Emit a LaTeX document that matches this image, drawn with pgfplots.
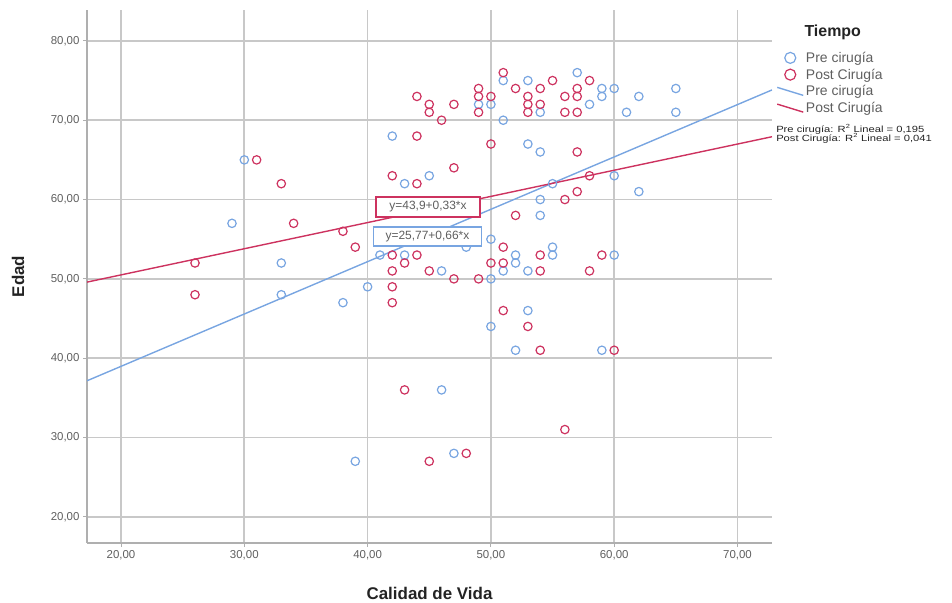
\documentclass[border=0pt]{standalone}
\usepackage{fontspec}
\setmainfont{Liberation Sans}
\usepackage{pgfplots}
\pgfplotsset{compat=1.18}
\definecolor{preC}{RGB}{120,165,225}
\definecolor{postC}{RGB}{205,50,95}
\definecolor{gridC}{RGB}{200,200,200}
\definecolor{axisC}{RGB}{175,175,175}
\definecolor{tickC}{RGB}{95,95,95}
\definecolor{labelC}{RGB}{35,35,35}
\pgfplotsset{
  slantline legend/.style={legend image code/.code={\draw[##1] (-4bp,4bp) -- (22bp,-4bp);}},
  scatter legend/.style={legend image code/.code={\draw[mark repeat=2,mark phase=2,##1,mark size=5.5bp] plot coordinates {(0bp,0bp) (9bp,0bp) (18bp,0bp)};}}
}
\begin{document}
\begin{tikzpicture}[x=1bp,y=1bp]
\useasboundingbox (0,0) rectangle (952,603);
\begin{axis}[
  at={(87bp,60bp)}, anchor=south west,
  scale only axis, width=685bp, height=533bp,
  xmin=17.24, xmax=72.8, ymin=16.7, ymax=83.9,
  axis x line*=bottom, axis y line*=left,
  axis line style={draw=axisC, line width=1.8bp, -},
  xtick={20,30,40,50,60,70},
  xticklabels={{20,00},{30,00},{40,00},{50,00},{60,00},{70,00}},
  ytick={20,30,40,50,60,70,80},
  yticklabels={{20,00},{30,00},{40,00},{50,00},{60,00},{70,00},{80,00}},
  tick align=outside, major tick length=4bp,
  tick style={draw=axisC, line width=1bp},
  grid=major, grid style={draw=gridC, line width=1.7bp},
  ticklabel style={font=\fontsize{11.5}{13}\selectfont, text=tickC},
  xlabel={Calidad de Vida}, ylabel={Edad},
  xlabel style={at={(axis description cs:0.5,-0.0938)}, anchor=center, font=\bfseries\fontsize{17}{20}\selectfont, text=labelC},
  ylabel style={at={(axis description cs:-0.1007,0.5)}, anchor=center, font=\bfseries\fontsize{17}{20}\selectfont, text=labelC},
  legend style={at={(axis description cs:1.002,0.929)}, anchor=north west, draw=none, fill=none,
    font=\fontsize{14}{15}\selectfont, text=tickC, row sep=1bp,
    /tikz/every even column/.append style={column sep=2bp}},
  legend cell align=left,
]
% Pre cirugia
\addplot[only marks, mark=o, mark size=4.2bp, mark options={line width=1.2bp}, color=preC, scatter legend] coordinates {
(30,65) (29,57) (33,52) (33,48) (38,47) (40,49) (39,27) (41,53) (42,68) (43,62)
(45,63) (46,51) (46,36) (47,28) (48,54) (49,72) (50,72) (50,50) (50,44) (50,55)
(51,75) (51,70) (51,51) (52,53) (52,52) (52,41) (53,75) (53,67) (53,51) (53,46)
(54,71) (54,66) (54,60) (54,58) (55,62) (55,54) (55,53) (57,76) (58,72) (59,74)
(59,73) (60,74) (61,71) (62,73) (65,74) (65,71) (60,63) (62,61) (60,53) (59,41)
(43,53)
};
\addlegendentry{Pre cirugía}
% Post cirugia
\addplot[only marks, mark=o, mark size=4.2bp, mark options={line width=1.2bp}, color=postC, scatter legend] coordinates {
(26,52) (26,48) (31,65) (33,62) (34,57) (38,56) (39,54) (42,63) (42,53) (42,51)
(42,49) (42,47) (43,52) (43,36) (44,73) (44,68) (44,62) (44,53) (45,72) (45,71)
(45,51) (45,27) (46,70) (47,72) (47,64) (47,50) (48,28) (49,74) (49,73) (49,71)
(49,50) (50,73) (50,67) (50,52) (51,76) (51,54) (51,52) (51,46) (52,74) (52,58)
(53,73) (53,72) (53,71) (53,44) (54,74) (54,72) (54,53) (54,51) (54,41) (55,75)
(56,73) (56,71) (56,60) (56,31) (57,74) (57,73) (57,71) (57,66) (57,61) (58,75)
(58,63) (58,51) (59,53) (60,41)
};
\addlegendentry{Post Cirugía}
% regression lines
\addplot[preC, line width=1.4bp, slantline legend] coordinates {(17.24,37.15) (72.8,73.82)};
\addlegendentry{Pre cirugía}
\addplot[postC, line width=1.4bp, slantline legend] coordinates {(17.24,49.59) (72.8,67.92)};
\addlegendentry{Post Cirugía}
\end{axis}
% legend title and fit notes
\node[anchor=west, font=\bfseries\fontsize{16}{18}\selectfont, text=labelC] at (801,571) {Tiempo};
\node[anchor=west, font=\fontsize{9}{10}\selectfont, text=labelC, xscale=1.25, transform shape, inner sep=0pt] at (776,474) {Pre cirugía: R\textsuperscript{2} Lineal = 0,195};
\node[anchor=west, font=\fontsize{9}{10}\selectfont, text=labelC, xscale=1.25, transform shape, inner sep=0pt] at (776,464.5) {Post Cirugía: R\textsuperscript{2} Lineal = 0,041};
% equation labels
\node[draw=postC, line width=1.2bp, fill=white, minimum width=104bp, minimum height=20bp, inner sep=1bp, font=\fontsize{12}{14}\selectfont, text=tickC] at (428,396) {y=43,9+0,33*x};
\node[draw=preC, line width=1.2bp, fill=white, minimum width=108bp, minimum height=19bp, inner sep=1bp, font=\fontsize{12}{14}\selectfont, text=tickC] at (427.5,366.5) {y=25,77+0,66*x};
\end{tikzpicture}
\end{document}
